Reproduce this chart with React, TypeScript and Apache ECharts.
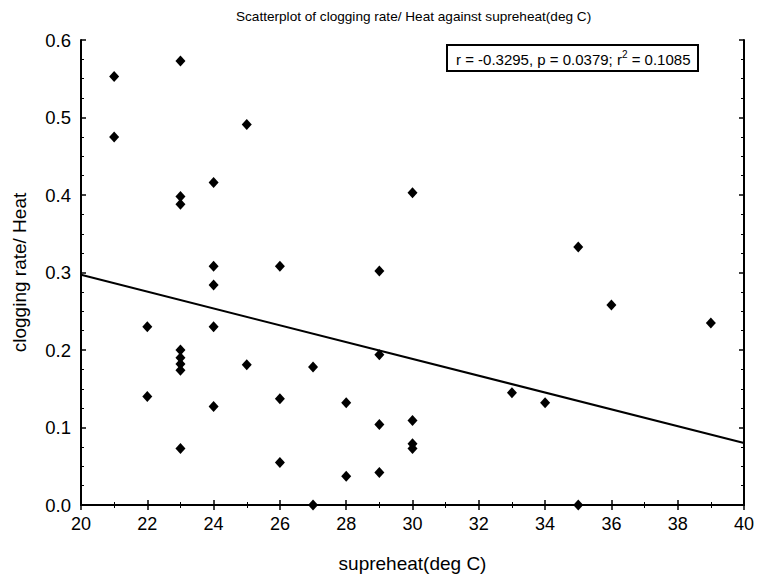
import React, { useEffect, useRef } from "react";
import * as echarts from "echarts";

const superheat = [21, 21, 22, 22, 23, 23, 23, 23, 23, 23, 23, 23, 24, 24, 24, 24, 24, 25, 25, 26, 26, 26, 27, 27, 28, 28, 29, 29, 29, 29, 30, 30, 30, 30, 33, 34, 35, 35, 36, 39];
const cloggingRate = [0.553, 0.475, 0.230, 0.140, 0.573, 0.398, 0.388, 0.200, 0.190, 0.182, 0.174, 0.073, 0.416, 0.308, 0.284, 0.230, 0.127, 0.491, 0.181, 0.308, 0.137, 0.055, 0.178, 0.0, 0.132, 0.037, 0.302, 0.194, 0.104, 0.042, 0.403, 0.109, 0.079, 0.073, 0.145, 0.132, 0.333, 0.0, 0.258, 0.235];
const fitX = [20, 40];
const fitY = [0.297, 0.080];

const titleText = "Scatterplot of clogging rate/ Heat against supreheat(deg C)";
const xName = "supreheat(deg C)";
const yName = "clogging rate/ Heat";

const FONT = "'Liberation Sans', Arial, sans-serif";

export default function App() {
  const ref = useRef<HTMLDivElement>(null);
  useEffect(() => {
    document.body.style.margin = "0";
    const chart = echarts.init(ref.current!, null, { renderer: "svg" });
    const axisCommon = {
      axisLine: { show: true, lineStyle: { color: "#000", width: 2 } },
      axisTick: { show: true, inside: true, length: 5, lineStyle: { color: "#000", width: 1.5 } },
      minorTick: { show: true, length: 3, lineStyle: { color: "#000", width: 1 } },
      splitLine: { show: false },
    };
    chart.setOption({
      animation: false,
      backgroundColor: "#fff",
      textStyle: { fontFamily: FONT },
      title: {
        text: titleText,
        left: 231,
        top: 4,
        textStyle: { fontSize: 13.6, fontWeight: "normal", color: "#000", fontFamily: FONT },
      },
      grid: { left: 81, right: 16, top: 40, bottom: 76 },
      xAxis: [
        {
          type: "value", min: 20, max: 40, interval: 2, position: "bottom",
          ...axisCommon,
          minorTick: { ...axisCommon.minorTick, splitNumber: 2 },
          axisLabel: { fontSize: 18, color: "#000", margin: 10, fontFamily: FONT },
          name: xName, nameLocation: "middle", nameGap: 49,
          nameTextStyle: { fontSize: 19, color: "#000", fontFamily: FONT },
        },
        {
          type: "value", min: 20, max: 40, interval: 2, position: "top",
          ...axisCommon,
          minorTick: { ...axisCommon.minorTick, splitNumber: 2 },
          axisLabel: { show: false },
        },
      ],
      yAxis: [
        {
          type: "value", min: 0, max: 0.6, interval: 0.1, position: "left",
          ...axisCommon,
          minorTick: { ...axisCommon.minorTick, splitNumber: 4 },
          axisLabel: { fontSize: 18.5, color: "#000", margin: 10, fontFamily: FONT, formatter: (v: number) => v.toFixed(1) },
          name: yName, nameLocation: "middle", nameGap: 52, nameRotate: 90,
          nameTextStyle: { fontSize: 19, color: "#000", fontFamily: FONT },
        },
        {
          type: "value", min: 0, max: 0.6, interval: 0.1, position: "right",
          ...axisCommon,
          minorTick: { ...axisCommon.minorTick, splitNumber: 4 },
          axisLabel: { show: false },
        },
      ],
      series: [
        {
          type: "line",
          data: fitX.map((x, i) => [x, fitY[i]]),
          showSymbol: false,
          symbol: "none",
          lineStyle: { color: "#000", width: 2 },
          silent: true,
          z: 2,
        },
        {
          type: "scatter",
          data: superheat.map((x, i) => [x, cloggingRate[i]]),
          symbol: "diamond",
          symbolSize: [10, 11],
          itemStyle: { color: "#000", opacity: 1 },
          clip: false,
          z: 3,
        },
      ],
      graphic: [
        {
          type: "group",
          left: 446,
          top: 44,
          children: [
            {
              type: "rect",
              shape: { x: 0, y: 0, width: 251, height: 26 },
              style: { fill: "#fff", stroke: "#000", lineWidth: 2 },
            },
            {
              type: "text",
              x: 9,
              y: 14,
              style: {
                text: "{n|r = -0.3295, p = 0.0379; r}{sup|2}{n| = 0.1085}",
                verticalAlign: "middle",
                rich: {
                  n: { fontSize: 15, fill: "#000", fontFamily: FONT },
                  sup: { fontSize: 10, fill: "#000", fontFamily: FONT, padding: [0, 0, 10, 0] },
                },
              },
            },
          ],
        },
      ],
    });
    return () => chart.dispose();
  }, []);
  return <div ref={ref} style={{ position: "fixed", left: 0, top: 0, width: 760, height: 581 }} />;
}
